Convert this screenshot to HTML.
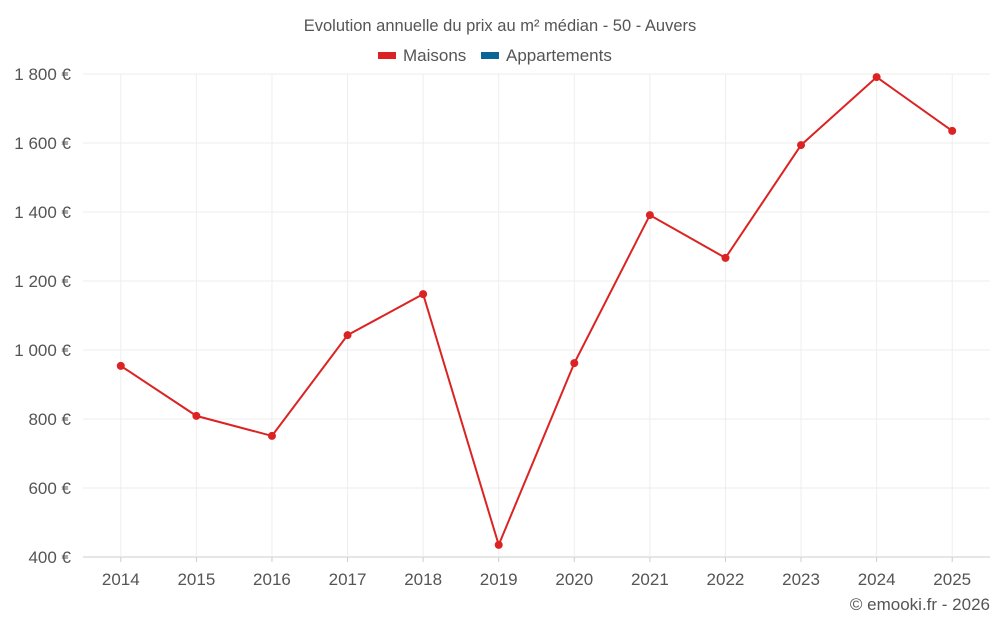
<!DOCTYPE html>
<html><head><meta charset="utf-8"><style>
body{margin:0;background:#fff;font-family:"Liberation Sans",sans-serif;}
svg text{font-family:"Liberation Sans",sans-serif;fill:#555;}
</style></head><body>
<svg id="c" width="1000" height="625">
<text x="500" y="31" text-anchor="middle" font-size="16.5">Evolution annuelle du prix au m² médian - 50 - Auvers</text>
<g>
<rect x="378" y="52" width="18" height="7" fill="#dc2323"/>
<text x="403" y="61" font-size="17">Maisons</text>
<rect x="481" y="52" width="18" height="7" fill="#0a6496"/>
<text x="506" y="61" font-size="17">Appartements</text>
</g>
<g id="grid"></g><g id="axes"></g><g id="series"></g>
<text x="990" y="610" text-anchor="end" font-size="17">© emooki.fr - 2026</text>
</svg>
<script>
const years=['2014','2015','2016','2017','2018','2019','2020','2021','2022','2023','2024','2025'];
const maisons=[954,809,751,1043,1162,435,962,1391,1267,1594,1791,1635];
const yTicks=[400,600,800,1000,1200,1400,1600,1800];
const yTickLabels=['400 €','600 €','800 €','1 000 €','1 200 €','1 400 €','1 600 €','1 800 €'];
const L=83,R=990,T=74,B=557,ymin=400,ymax=1800;
const bw=(R-L)/years.length;
const x=i=>L+bw*(i+0.5);
const y=v=>B-(v-ymin)/(ymax-ymin)*(B-T);
const NS='http://www.w3.org/2000/svg';
function mk(t,a,p){const e=document.createElementNS(NS,t);for(const k in a)e.setAttribute(k,a[k]);p.appendChild(e);return e;}
const g=document.getElementById('grid'),ax=document.getElementById('axes'),s=document.getElementById('series');
yTicks.forEach((v,i)=>{
 const l=mk('line',{x1:L,x2:R,y1:y(v),y2:y(v),stroke:i==0?'#ccc':'#eee'},g);
 
 
 const t=mk('text',{x:L-12,y:y(v)+6,'text-anchor':'end','font-size':17},ax);
 t.textContent=yTickLabels[i];
 
 
});
years.forEach((yr,i)=>{
 const l=mk('line',{x1:x(i),x2:x(i),y1:T,y2:B,stroke:'#eee'},g);
 
 
 const tk=mk('line',{x1:x(i),x2:x(i),y1:B,y2:B+5,stroke:'#ccc'},ax);
 
 
 const t=mk('text',{x:x(i),y:585,'text-anchor':'middle','font-size':17},ax);
 t.textContent=yr;
 
 
});
const p=mk('polyline',{points:maisons.map((v,i)=>x(i)+','+y(v)).join(' '),fill:'none',stroke:'#dc2323','stroke-width':2},s);


maisons.forEach((v,i)=>{
 const c=mk('circle',{cx:x(i),cy:y(v),r:4,fill:'#dc2323'},s);
 
 
});
</script>
</body></html>
